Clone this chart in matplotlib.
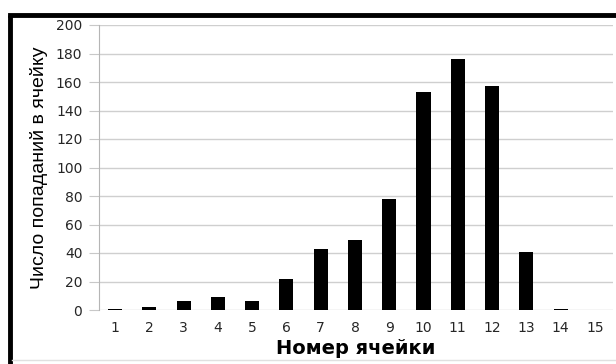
import matplotlib.pyplot as plt
from matplotlib.lines import Line2D

plt.rcParams['font.family'] = ['DejaVu Sans']

# номера ячеек и число попаданий
cells = list(range(1, 16))
counts = [1, 2, 6, 9, 6, 22, 43, 49, 78, 153, 176, 157, 41, 1, 0]
y_ticks = list(range(0, 201, 20))

W, H = 616, 364
fig = plt.figure(figsize=(W / 100, H / 100), dpi=100)
ax = fig.add_axes([99 / W, 1 - 310 / H, (613 - 99) / W, (310 - 25) / H])

ax.bar(cells, counts, width=0.41, color='black', zorder=3)

ax.set_xlim(0.53, 15.53)
ax.set_ylim(0, 200)
ax.set_yticks(y_ticks)
ax.set_xticks(cells)
ax.grid(axis='y', color='#cfcfcf', linewidth=1, zorder=0)
for s in ['top', 'right', 'bottom']:
    ax.spines[s].set_visible(False)
ax.spines['left'].set_color('#b5b5b5')
ax.tick_params(axis='y', length=7, color='#c8c8c8', labelsize=10, labelcolor='#262626', pad=5)
ax.tick_params(axis='x', length=0, labelsize=10, labelcolor='#262626', pad=8)

ax.set_xlabel('Номер ячейки', fontsize=14, fontweight='bold', labelpad=3)
ax.set_ylabel('Число попаданий в ячейку', family=['Liberation Sans', 'DejaVu Sans'],
              fontsize=14, labelpad=6)

# рамка сверху и слева
y_top = 1 - 15 / H
x_left = 9.5 / W
fig.add_artist(Line2D([x_left, 1], [y_top, y_top], color='black', linewidth=3.5,
                      solid_capstyle='projecting', transform=fig.transFigure))
fig.add_artist(Line2D([x_left, x_left], [0, y_top], color='black', linewidth=3.5,
                      solid_capstyle='butt', transform=fig.transFigure))
fig.add_artist(Line2D([12 / W, 1], [1 - 360 / H, 1 - 360 / H], color='#e0e0e0', linewidth=1,
                      transform=fig.transFigure))

fig.savefig('out.png', dpi=100)
